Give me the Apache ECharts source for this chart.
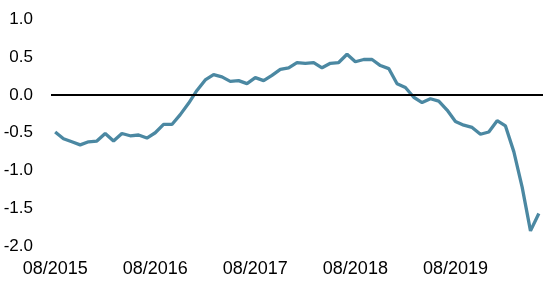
<!DOCTYPE html>
<html>
<head>
<meta charset="utf-8">
<script src="https://cdn.jsdelivr.net/npm/echarts@6/dist/echarts.min.js"></script>
<style>html,body{margin:0;padding:0;background:#fff;}#c{width:552px;height:289px;}</style>
</head>
<body>
<div id="c"></div>
<script>
const months = [
  "08/2015","09/2015","10/2015","11/2015","12/2015","01/2016","02/2016","03/2016","04/2016","05/2016","06/2016","07/2016",
  "08/2016","09/2016","10/2016","11/2016","12/2016","01/2017","02/2017","03/2017","04/2017","05/2017","06/2017","07/2017",
  "08/2017","09/2017","10/2017","11/2017","12/2017","01/2018","02/2018","03/2018","04/2018","05/2018","06/2018","07/2018",
  "08/2018","09/2018","10/2018","11/2018","12/2018","01/2019","02/2019","03/2019","04/2019","05/2019","06/2019","07/2019",
  "08/2019","09/2019","10/2019","11/2019","12/2019","01/2020","02/2020","03/2020","04/2020","05/2020","06/2020"
];
const values = [
  -0.49,-0.58,-0.62,-0.66,-0.62,-0.61,-0.51,-0.61,-0.51,-0.54,-0.53,-0.57,
  -0.50,-0.39,-0.39,-0.26,-0.11,0.06,0.20,0.27,0.24,0.18,0.19,0.15,
  0.23,0.19,0.26,0.34,0.36,0.43,0.42,0.43,0.36,0.42,0.43,0.54,
  0.44,0.47,0.47,0.39,0.35,0.15,0.10,-0.03,-0.10,-0.05,-0.08,-0.20,
  -0.35,-0.40,-0.43,-0.52,-0.49,-0.34,-0.41,-0.75,-1.22,-1.80,-1.57
];
const yTicks = { min: -2, max: 1, step: 0.5 };

const chart = echarts.init(document.getElementById('c'), null, { renderer: 'canvas' });
chart.setOption({
  animation: false,
  backgroundColor: '#ffffff',
  grid: { left: 51, right: 9, top: 19.5, bottom: 43, containLabel: false },
  xAxis: {
    type: 'category',
    data: months,
    boundaryGap: true,
    axisLine: { show: false },
    axisTick: { show: false },
    splitLine: { show: false },
    axisLabel: {
      interval: 11,
      margin: 14,
      color: '#000',
      fontSize: 18,
      fontFamily: 'Liberation Sans, Arial, sans-serif'
    }
  },
  yAxis: {
    type: 'value',
    min: yTicks.min,
    max: yTicks.max,
    interval: yTicks.step,
    axisLine: { show: false },
    axisTick: { show: false },
    splitLine: { show: false },
    axisLabel: {
      margin: 18,
      color: '#000',
      fontSize: 17,
      fontFamily: 'Liberation Sans, Arial, sans-serif',
      formatter: v => v.toFixed(1)
    }
  },
  series: [{
    type: 'line',
    data: values,
    symbol: 'none',
    lineStyle: { color: '#4b88a2', width: 3.3 },
    itemStyle: { color: '#4b88a2' },
    markLine: {
      silent: true,
      symbol: ['none', 'none'],
      label: { show: false },
      lineStyle: { color: '#000', width: 1.8, type: 'solid' },
      data: [{ yAxis: 0 }]
    },
    z: 3
  }]
});
</script>
</body>
</html>
